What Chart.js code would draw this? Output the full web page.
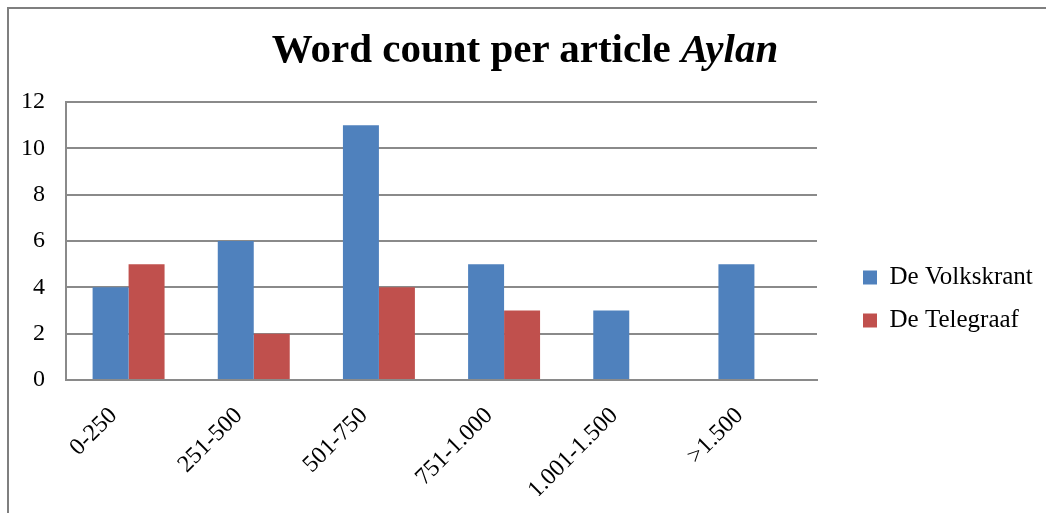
<!DOCTYPE html>
<html>
<head>
<meta charset="utf-8">
<script src="https://cdn.jsdelivr.net/npm/chart.js@4/dist/chart.umd.min.js"></script>
<style>
  html, body { margin: 0; padding: 0; background: #fff; }
  #wrap { position: relative; width: 1046px; height: 513px; overflow: hidden; }
  #frame { position: absolute; left: 7px; top: 7px; width: 1100px; height: 600px;
           border-left: 2px solid #7f7f7f; border-top: 2px solid #7f7f7f; }
  #title { position: absolute; left: 0; top: 28px; width: 1050px; text-align: center;
           font: bold 41px/40px "Liberation Serif", "Times New Roman", serif; color: #000; }
  canvas { position: absolute; left: 0; top: 0; }
</style>
</head>
<body>
<div id="wrap">
  <div id="frame"></div>
  <canvas id="chart" width="1046" height="513"></canvas>
  <div id="title">Word count per article <i>Aylan</i></div>
</div>
<script>
const categories = ['0-250', '251-500', '501-750', '751-1.000', '1.001-1.500', '>1.500'];
const volkskrant = [4, 6, 11, 5, 3, 5];
const telegraaf = [5, 2, 4, 3, 0, 0];
const yTicks = [0, 2, 4, 6, 8, 10, 12];

const serif = '"Liberation Serif", "Times New Roman", serif';
const gridGray = '#8a8a8a';

const ctx = document.getElementById('chart').getContext('2d');

new Chart(ctx, {
    type: 'bar',
    data: {
        labels: categories,
        datasets: [
            { label: 'De Volkskrant', data: volkskrant, backgroundColor: '#4f81bd' },
            { label: 'De Telegraaf', data: telegraaf, backgroundColor: '#c0504d' }
        ]
    },
    options: {
        responsive: false,
        animation: false,
        layout: { padding: { top: 102, bottom: 17, left: 0, right: 0 } },
        datasets: {
            bar: { categoryPercentage: 0.575, barPercentage: 1.0 }
        },
        plugins: {
            title: { display: false },
            tooltip: { enabled: false },
            legend: {
                position: 'right',
                labels: {
                    boxWidth: 14,
                    boxHeight: 14,
                    padding: 18,
                    color: '#000',
                    font: { family: serif, size: 25 }
                }
            }
        },
        scales: {
            x: {
                grid: { display: false },
                border: { display: true, color: gridGray, width: 2 },
                ticks: {
                    color: '#000',
                    font: { family: serif, size: 24 },
                    maxRotation: 45,
                    minRotation: 45,
                    labelOffset: -15,
                    padding: 14
                },
                afterFit: s => { s.height = 116; }
            },
            y: {
                min: yTicks[0],
                max: yTicks[yTicks.length - 1],
                afterBuildTicks: s => { s.ticks = yTicks.map(v => ({ value: v })); },
                grid: { color: gridGray, lineWidth: 2, drawTicks: false },
                border: { display: true, color: gridGray, width: 2 },
                ticks: {
                    color: '#000',
                    font: { family: serif, size: 24 },
                    padding: 21
                },
                afterFit: s => { s.width = 66; }
            },
            gap: {
                type: 'linear',
                position: 'right',
                grid: { display: false, drawOnChartArea: false },
                border: { display: false },
                ticks: { display: false },
                afterFit: s => {
                    // keep the plot's right edge at 817 and the legend boxes at ~863
                    const lw = s.chart.legend ? s.chart.legend.width : 190;
                    s.width = Math.max(0, 1046 - 817 - lw);
                }
            }
        }
    },
    plugins: [{
        id: 'legendShift',
        beforeDraw(chart) {
            const lg = chart.legend;
            if (lg && !lg._shifted) {
                lg._shifted = true;
                const draw = lg.draw.bind(lg);
                lg.draw = function () {
                    const dx = (863 - 18) - this.left;
                    this.left += dx;
                    draw();
                    this.left -= dx;
                };
            }
        }
    }]
});
</script>
</body>
</html>
